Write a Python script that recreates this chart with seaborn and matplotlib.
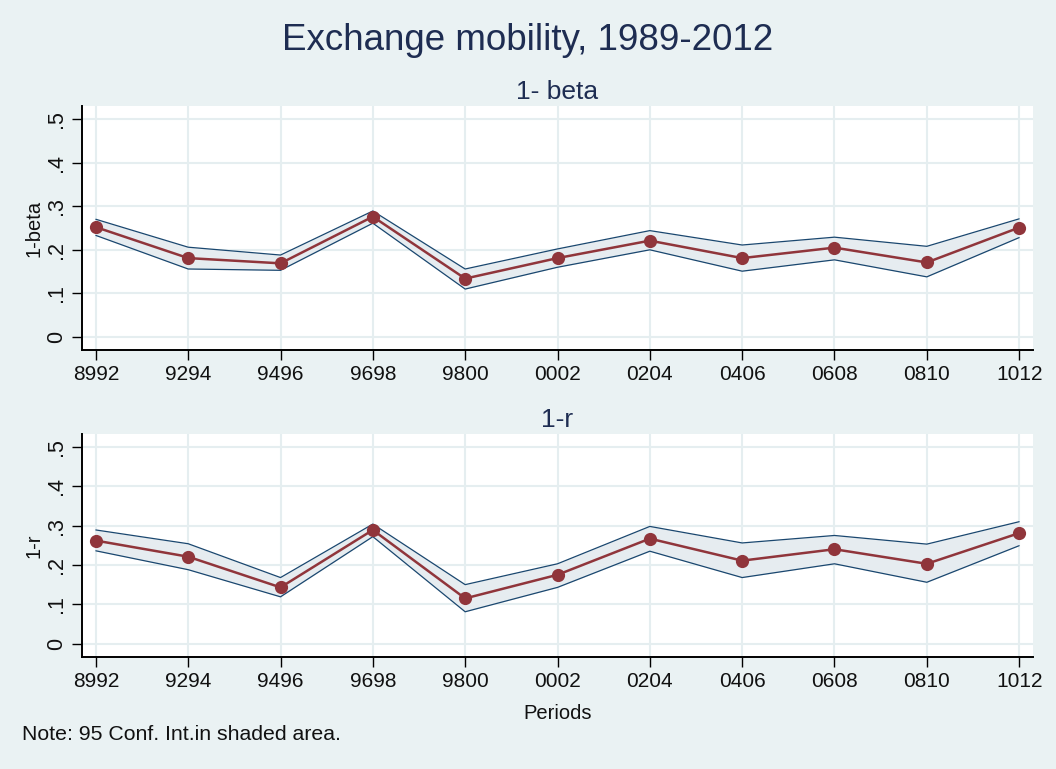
import numpy as np
import pandas as pd
import matplotlib
matplotlib.use("Agg")
import matplotlib.pyplot as plt
import seaborn as sns

periods = ["8992", "9294", "9496", "9698", "9800", "0002", "0204", "0406", "0608", "0810", "1012"]

beta = [0.252, 0.181, 0.169, 0.276, 0.134, 0.181, 0.221, 0.181, 0.205, 0.171, 0.251]
beta_lo = [0.233, 0.156, 0.153, 0.261, 0.110, 0.160, 0.200, 0.151, 0.177, 0.138, 0.228]
beta_hi = [0.270, 0.206, 0.188, 0.289, 0.156, 0.202, 0.244, 0.211, 0.229, 0.208, 0.271]

r = [0.262, 0.221, 0.143, 0.289, 0.115, 0.175, 0.267, 0.211, 0.240, 0.203, 0.281]
r_lo = [0.236, 0.188, 0.119, 0.272, 0.081, 0.143, 0.235, 0.168, 0.203, 0.156, 0.249]
r_hi = [0.289, 0.254, 0.168, 0.304, 0.150, 0.203, 0.298, 0.256, 0.275, 0.253, 0.310]

yticks = [0, 0.1, 0.2, 0.3, 0.4, 0.5]
ytick_labels = ["0", ".1", ".2", ".3", ".4", ".5"]

BG = "#EAF2F3"
NAVY = "#1A476F"
TITLE_C = "#1E2D52"
MAROON = "#90353B"
FILL = "#E6ECF0"
GRID = "#E5EEF0"

sns.set_theme(style="white")
plt.rcParams["font.family"] = ["Liberation Sans", "DejaVu Sans"]

fig = plt.figure(figsize=(10.56, 7.69), dpi=100, facecolor=BG)
W, H = 1056, 769

def make_ax(left, top, right, bottom):
    return fig.add_axes([left / W, 1 - bottom / H, (right - left) / W, (bottom - top) / H])

ax1 = make_ax(82, 106, 1033, 350)
ax2 = make_ax(82, 434, 1033, 657)

panels = [
    (ax1, beta, beta_lo, beta_hi, "1-beta", "1- beta", (-0.0297, 0.5297)),
    (ax2, r, r_lo, r_hi, "1-r", "1-r", (-0.034, 0.533)),
]

x = np.arange(len(periods))
for ax, est, lo, hi, ylab, sub, ylim in panels:
    ax.set_facecolor("white")
    df = pd.DataFrame({"x": x, "est": est, "lo": lo, "hi": hi})
    ax.fill_between(df["x"], df["lo"], df["hi"], color=FILL, lw=0, zorder=2)
    sns.lineplot(data=df, x="x", y="hi", ax=ax, color=NAVY, lw=0.9, zorder=3)
    sns.lineplot(data=df, x="x", y="lo", ax=ax, color=NAVY, lw=0.9, zorder=3)
    sns.lineplot(data=df, x="x", y="est", ax=ax, color=MAROON, lw=1.8, marker="o",
                 markersize=9.5, markeredgewidth=0, zorder=4)
    ax.set_xlim(-0.15, 10.15)
    ax.set_ylim(*ylim)
    ax.set_xticks(x)
    ax.set_xticklabels(periods, fontsize=15, color="#111111")
    ax.set_yticks(yticks)
    ax.set_yticklabels(ytick_labels, fontsize=15.5, rotation=90, va="center", color="#111111")
    ax.grid(True, color=GRID, lw=1.5, zorder=0)
    ax.set_axisbelow(True)
    for s in ["top", "right"]:
        ax.spines[s].set_visible(False)
    for s in ["left", "bottom"]:
        ax.spines[s].set_color("black")
        ax.spines[s].set_linewidth(1.4)
    ax.tick_params(axis="both", which="both", direction="out", length=7, width=1.0,
                   color="black", left=True, bottom=True, pad=4)
    ax.set_ylabel(ylab, fontsize=14.5, color="#111111", labelpad=1.5)
    ax.set_xlabel("")
    ax.set_title(sub, fontsize=19, color=TITLE_C, pad=5)

ax2.set_xlabel("Periods", fontsize=14.5, color="#111111", labelpad=9)

fig.text(0.5, 1 - 40 / H, "Exchange mobility, 1989-2012", ha="center", va="center",
         fontsize=26.5, color=TITLE_C)
fig.text(22 / W, 1 - 735 / H, "Note: 95 Conf. Int.in shaded area.", ha="left", va="center",
         fontsize=15.3, color="#111111")

fig.savefig("out.png", dpi=100, facecolor=BG)
